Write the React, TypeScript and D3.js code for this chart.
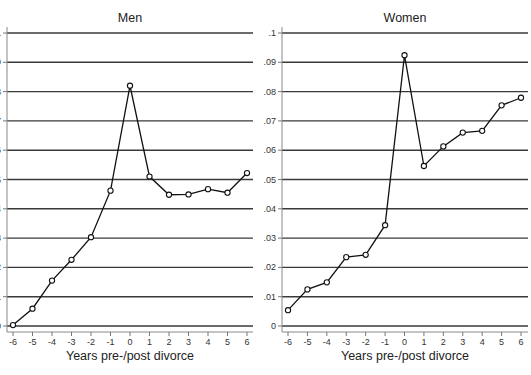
import React from "react";
import * as d3 from "d3";

const years = [-6, -5, -4, -3, -2, -1, 0, 1, 2, 3, 4, 5, 6];
const menValues = [0.0003, 0.0059, 0.0155, 0.0226, 0.0303, 0.0462, 0.082, 0.051, 0.0448, 0.0449, 0.0467, 0.0455, 0.0522];
const womenValues = [0.0054, 0.0125, 0.0149, 0.0235, 0.0243, 0.0344, 0.0924, 0.0546, 0.0613, 0.066, 0.0666, 0.0753, 0.0779];
const yTicks = [0, 0.01, 0.02, 0.03, 0.04, 0.05, 0.06, 0.07, 0.08, 0.09, 0.1];
const yTickLabels = ["0", ".01", ".02", ".03", ".04", ".05", ".06", ".07", ".08", ".09", ".1"];
const panelTitles = ["Men", "Women"];
const xTitle = "Years pre-/post divorce";

const FONT = "Liberation Sans, Arial, Helvetica, sans-serif";

function Panel({ title, values, axisX, gridEnd, x0, x1 }: { title: string; values: number[]; axisX: number; gridEnd: number; x0: number; x1: number }) {
  const x = d3.scaleLinear().domain([-6, 6]).range([x0, x1]);
  const y = d3.scaleLinear().domain([0, 0.1]).range([326, 33]);
  const axisY = 332;
  const line = d3.line<number>().x((_, i) => x(years[i])).y((d) => y(d));
  return (
    <g>
      <text x={(axisX + gridEnd) / 2} y={22} textAnchor="middle" fontSize={12.5} fontFamily={FONT} fill="#222">{title}</text>
      {yTicks.map((t, i) => (
        <g key={i}>
          <line x1={axisX} x2={gridEnd} y1={y(t)} y2={y(t)} stroke="#3a3a3a" strokeWidth={1.4} />
          <line x1={axisX - 4} x2={axisX} y1={y(t)} y2={y(t)} stroke="#777" strokeWidth={1} />
          <text x={axisX - 6} y={y(t) + 3} textAnchor="end" fontSize={9} fontFamily={FONT} fill="#333">{yTickLabels[i]}</text>
        </g>
      ))}
      <line x1={axisX} x2={axisX} y1={27} y2={axisY} stroke="#888" strokeWidth={1} />
      <line x1={axisX} x2={gridEnd} y1={axisY} y2={axisY} stroke="#888" strokeWidth={1} />
      {years.map((yr) => (
        <g key={yr}>
          <line x1={x(yr)} x2={x(yr)} y1={axisY} y2={axisY + 4} stroke="#777" strokeWidth={1} />
          <text x={x(yr)} y={axisY + 13} textAnchor="middle" fontSize={9} fontFamily={FONT} fill="#333">{yr}</text>
        </g>
      ))}
      <text x={(axisX + gridEnd) / 2} y={360} textAnchor="middle" fontSize={12.5} fontFamily={FONT} fill="#222">{xTitle}</text>
      <path d={line(values) || ""} fill="none" stroke="#111" strokeWidth={1.3} />
      {values.map((v, i) => (
        <circle key={i} cx={x(years[i])} cy={y(v)} r={2.6} fill="#fff" stroke="#111" strokeWidth={1.1} />
      ))}
    </g>
  );
}

export default function App() {
  return (
    <svg width={531} height={375} style={{ position: "absolute", left: 0, top: 0, background: "#fff" }}>
      <rect width={531} height={375} fill="#fff" />
      <Panel title={panelTitles[0]} values={menValues} axisX={7} gridEnd={253} x0={13} x1={247} />
      <Panel title={panelTitles[1]} values={womenValues} axisX={282} gridEnd={528} x0={288} x1={521} />
    </svg>
  );
}
